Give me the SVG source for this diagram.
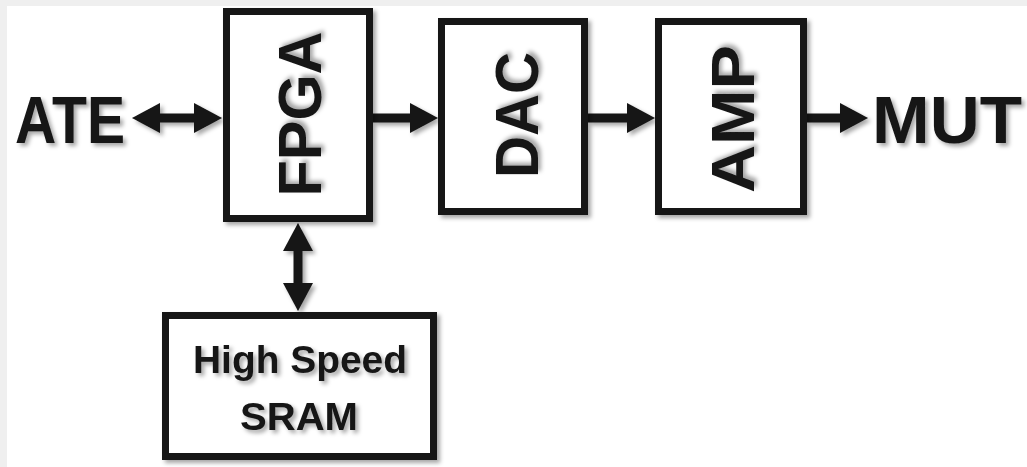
<svg xmlns="http://www.w3.org/2000/svg" width="1027" height="467" viewBox="0 0 1027 467">
  <style>
    .box { fill: #ffffff; stroke: #141414; stroke-width: 7; }
    .lbl { font-family: "Liberation Sans", Arial, sans-serif; font-weight: bold; fill: #141414; }
    .conn { stroke: #141414; stroke-width: 9; fill: none; }
  </style>
  <defs>
    <filter id="shadow" x="-20%" y="-20%" width="140%" height="140%">
      <feDropShadow dx="3" dy="3" stdDeviation="2" flood-color="#000" flood-opacity="0.35"/>
    </filter>
    <marker id="head" viewBox="0 0 28 30" refX="14" refY="15" markerWidth="28" markerHeight="30" markerUnits="userSpaceOnUse" orient="auto-start-reverse">
      <path d="M0,0 L28,15 L0,30 Z" fill="#141414"/>
    </marker>
  </defs>
  <rect x="0" y="0" width="1027" height="467" fill="#efefef"/>
  <rect x="7" y="6" width="1020" height="461" fill="#ffffff"/>

  <g id="connectors" filter="url(#shadow)">
    <line class="conn" x1="146" y1="118" x2="208" y2="118" marker-start="url(#head)" marker-end="url(#head)"/>
    <line class="conn" x1="373" y1="118" x2="424" y2="118" marker-end="url(#head)"/>
    <line class="conn" x1="588" y1="118" x2="641" y2="118" marker-end="url(#head)"/>
    <line class="conn" x1="807" y1="118" x2="854" y2="118" marker-end="url(#head)"/>
    <line class="conn" x1="298" y1="237" x2="298" y2="297" marker-start="url(#head)" marker-end="url(#head)"/>
  </g>

  <g id="ate">
    <text class="lbl" x="15" y="143" font-size="67" textLength="110" lengthAdjust="spacingAndGlyphs" filter="url(#shadow)">ATE</text>
  </g>

  <g id="fpga">
    <rect class="box" x="226.5" y="11.5" width="143" height="207" filter="url(#shadow)"/>
    <text class="lbl" transform="translate(299,114) rotate(-90)" x="0" y="22" font-size="62" text-anchor="middle" textLength="165" lengthAdjust="spacingAndGlyphs" filter="url(#shadow)">FPGA</text>
  </g>

  <g id="dac">
    <rect class="box" x="441.5" y="21.5" width="143" height="190" filter="url(#shadow)"/>
    <text class="lbl" transform="translate(516,115) rotate(-90)" x="0" y="22" font-size="62" text-anchor="middle" textLength="126" lengthAdjust="spacingAndGlyphs" filter="url(#shadow)">DAC</text>
  </g>

  <g id="amp">
    <rect class="box" x="658.5" y="21.5" width="145" height="190" filter="url(#shadow)"/>
    <text class="lbl" transform="translate(732,119) rotate(-90)" x="0" y="22" font-size="62" text-anchor="middle" textLength="148" lengthAdjust="spacingAndGlyphs" filter="url(#shadow)">AMP</text>
  </g>

  <g id="mut">
    <text class="lbl" x="872" y="143" font-size="67" textLength="150" lengthAdjust="spacingAndGlyphs" filter="url(#shadow)">MUT</text>
  </g>

  <g id="sram">
    <rect class="box" x="165.5" y="315.5" width="268" height="141" filter="url(#shadow)"/>
    <text class="lbl" x="300" y="373" font-size="39" text-anchor="middle" textLength="214" lengthAdjust="spacingAndGlyphs" filter="url(#shadow)">High Speed</text>
    <text class="lbl" x="299" y="430" font-size="39" text-anchor="middle" textLength="118" lengthAdjust="spacingAndGlyphs" filter="url(#shadow)">SRAM</text>
  </g>
</svg>
